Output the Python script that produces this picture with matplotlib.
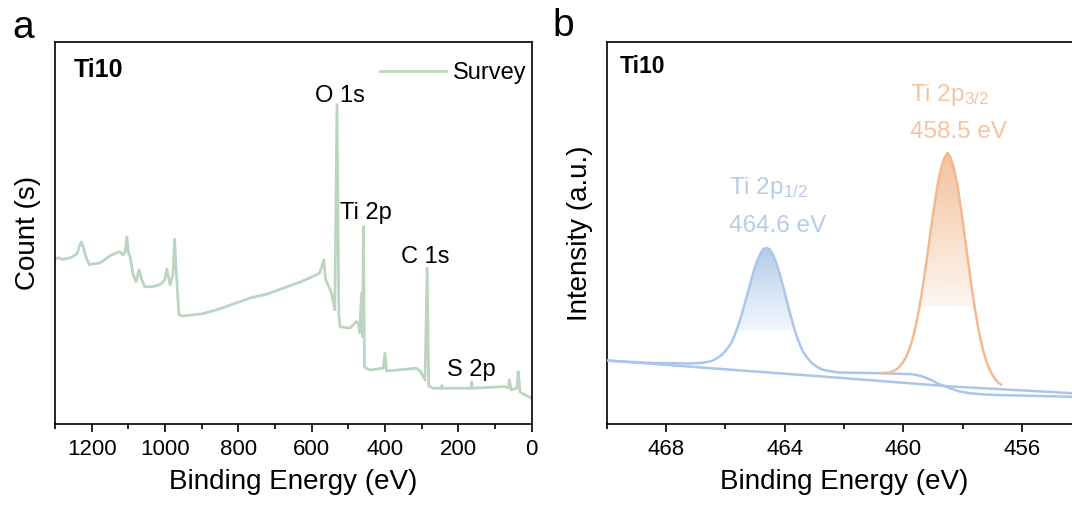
import numpy as np
import matplotlib
matplotlib.use("Agg")
import matplotlib.pyplot as plt

plt.rcParams['font.family'] = ['Liberation Sans', 'DejaVu Sans']
plt.rcParams['mathtext.default'] = 'regular'

# ---- panel a: survey spectrum (binding energy in eV, counts in a.u.)
survey_e = [1300, 1290, 1280, 1270, 1260, 1252, 1240, 1233, 1228, 1222, 1215, 1206,
            1195, 1179, 1165, 1151, 1138, 1124, 1115, 1108, 1104, 1099, 1095, 1088,
            1079, 1071, 1065, 1056, 1040, 1024, 1010, 1001, 995, 990, 986, 978, 974,
            969, 962, 951, 900, 860, 820, 769, 720, 678, 630, 587, 578, 567, 562,
            554, 546, 537, 531, 526, 523, 496, 478, 473, 469, 464, 461, 459, 456,
            453, 441, 405, 400, 396, 314, 303, 296, 291, 285, 281, 269, 246, 245,
            244, 166, 164, 162, 78, 64, 61, 56, 40, 37, 32, 23, 0]
survey_y = [165, 166, 164.5, 165, 166, 167.3, 170, 178, 182, 176, 166, 159,
            160, 160.7, 164, 168, 170, 172.3, 169, 172, 186.7, 170, 167.3, 150.7,
            142.3, 154, 145.7, 137.3, 137, 138, 140, 144, 154.7, 146, 139, 150, 184.7,
            150.7, 109, 108, 110, 114, 119, 125.7, 130, 135.7, 142, 149, 151, 164, 144,
            138, 131, 114, 319, 110.7, 97.3, 95.7, 102.3, 101, 91, 130.7, 87.3, 197.3,
            57.3, 56, 54, 55.7, 70.7, 53, 55.7, 52.3, 47.3, 44, 155.7, 38, 35.7, 35.7,
            38.5, 35.7, 35.7, 42, 35.7, 37.3, 36.5, 44, 34, 36, 52.3, 32.3, 30, 25.7]

survey_peaks = ['O 1s', 'Ti 2p', 'C 1s', 'S 2p']
survey_peak_e = [522, 452, 290, 165]
survey_peak_y = [328, 211, 167, 54]

# ---- panel b: Ti 2p high resolution
bg_e = [470.0, 462.3, 458.4, 454.0]
bg_y = [63.5, 46.5, 37.5, 30.3]

p12_e = [470.0, 468.5, 467.2, 466.8, 466.6, 466.5, 466.4, 466.3, 466.2, 466.1,
         466.0, 465.9, 465.8, 465.7, 465.6, 465.5, 465.4, 465.3, 465.2, 465.1,
         465.0, 464.9, 464.8, 464.7, 464.6, 464.5, 464.4, 464.3, 464.2, 464.1,
         464.0, 463.9, 463.8, 463.7, 463.6, 463.5, 463.4, 463.3, 463.2, 463.1,
         463.0, 462.9, 462.8, 462.7, 462.6, 462.4, 462.2, 460.5, 459.67, 459.4,
         459.1, 458.8, 458.43, 458.1, 457.75, 457.3, 456.85, 454.0]
p12_y = [63.3, 61, 60.5, 61, 62, 62.7, 63.8, 65.3, 67.3, 69.7,
         72.9, 76.7, 80.9, 87.5, 95.3, 104.2, 114.3, 125, 136, 146.7,
         156.8, 165, 171.2, 175.1, 176, 174.2, 169.4, 162.4, 153.4, 142.7,
         131.3, 119.8, 108.5, 97.9, 88.5, 80.3, 73.3, 68.7, 64.8, 61.5,
         59, 56.9, 55.3, 54.2, 53.5, 52.5, 51.5, 50.5, 49.7, 48,
         44.5, 40, 35.7, 32.5, 30.7, 29.6, 29, 27]

p32_e = [460.7, 460.5, 460.4, 460.3, 460.2, 460.1, 460.0, 459.9, 459.8, 459.7,
         459.6, 459.5, 459.4, 459.3, 459.2, 459.1, 459.0, 458.9, 458.8, 458.7,
         458.6, 458.5, 458.4, 458.3, 458.2, 458.1, 458.0, 457.9, 457.8, 457.7,
         457.6, 457.5, 457.4, 457.3, 457.2, 457.1, 457.0, 456.9, 456.8, 456.7]
p32_y = [50.8, 51.2, 52, 53.4, 55.2, 58.1, 62.2, 67.1, 74.2, 83.4,
         95, 109.2, 126.1, 145, 165.9, 187.3, 208.5, 228.4, 245.5, 258.4,
         266.6, 271, 265.7, 256.7, 242.9, 224.9, 204.3, 182.2, 159.9, 138.2,
         118.4, 100.6, 85.5, 73.1, 63, 55.2, 49.4, 44.9, 41.6, 39.4]

blue = '#AAC6EA'
orange = '#F3BA91'
green = '#BCD5C0'


def grad_fill(ax, x, y, ycut, color, a_top=0.9, a_bot=0.12):
    x = np.asarray(x)
    y = np.asarray(y)
    poly = ax.fill_between(x, y, ycut, where=y >= ycut, interpolate=True,
                           facecolor='none', edgecolor='none')
    rgba = np.array(matplotlib.colors.to_rgba(color))
    n = 256
    img = np.tile(rgba, (n, 1)).reshape(n, 1, 4)
    img[:, 0, 3] = np.linspace(a_bot, a_top, n)
    im = ax.imshow(img, origin='lower', aspect='auto', interpolation='bilinear',
                   extent=[x.max(), x.min(), ycut, y.max()], zorder=1)
    im.set_clip_path(poly.get_paths()[0], transform=ax.transData)


fig = plt.figure(figsize=(10.72, 5.16), dpi=100)
ax1 = fig.add_axes([0.0513, 0.1783, 0.4447, 0.741])
ax2 = fig.add_axes([0.566, 0.1783, 0.4425, 0.741])

# panel a
ax1.plot(survey_e, survey_y, color=green, lw=2, label='Survey')
for name, xe, ye in zip(survey_peaks, survey_peak_e, survey_peak_y):
    ax1.text(xe, ye, name, fontsize=17, ha='center', va='center')
ax1.set_xlim(1300, 0)
ax1.set_ylim(0, 382)
ax1.set_xticks([1200, 1000, 800, 600, 400, 200, 0])
ax1.set_xticks(np.arange(1300, -1, -100), minor=True)
ax1.set_yticks([])
ax1.set_xlabel('Binding Energy (eV)', fontsize=20, labelpad=6)
ax1.set_ylabel('Count (s)', fontsize=20, labelpad=10)
ax1.legend(loc='center right', bbox_to_anchor=(1.0, 0.918), frameon=False,
           fontsize=17, handlelength=2.8, handletextpad=0.3,
           borderaxespad=0, borderpad=0.2)
ax1.text(0.04, 0.925, 'Ti10', transform=ax1.transAxes, fontsize=18,
         fontweight='bold', va='center', ha='left')
fig.text(0.012, 0.945, 'a', fontsize=28, va='center')

# panel b
ax2.plot(bg_e, bg_y, color=blue, lw=1.8, zorder=3)
ax2.plot(p12_e, p12_y, color=blue, lw=1.8, zorder=3)
ax2.plot(p32_e, p32_y, color=orange, lw=1.8, zorder=3)
grad_fill(ax2, p12_e, p12_y, 93, blue)
grad_fill(ax2, p32_e, p32_y, 117, orange)

ax2.text(465.86, 236, 'Ti 2p$_{1/2}$', color='#B6CCEA', fontsize=17.5,
         ha='left', va='center')
ax2.text(465.86, 198, '464.6 eV', color='#B6CCEA', fontsize=17.5,
         ha='left', va='center')
ax2.text(459.78, 329, 'Ti 2p$_{3/2}$', color='#F6C3A0', fontsize=17.5,
         ha='left', va='center')
ax2.text(459.78, 292, '458.5 eV', color='#F6C3A0', fontsize=17.5,
         ha='left', va='center')

ax2.set_xlim(470, 454)
ax2.set_ylim(0, 382)
ax2.set_xticks([468, 464, 460, 456])
ax2.set_xticks([470, 466, 462, 458, 454], minor=True)
ax2.set_yticks([])
ax2.set_xlabel('Binding Energy (eV)', fontsize=20, labelpad=6)
ax2.set_ylabel('Intensity (a.u.)', fontsize=20, labelpad=10)
ax2.text(0.028, 0.935, 'Ti10', transform=ax2.transAxes, fontsize=16.5,
         fontweight='bold', va='center', ha='left')
fig.text(0.515, 0.95, 'b', fontsize=28, va='center')

for ax in (ax1, ax2):
    for s in ax.spines.values():
        s.set_linewidth(1.2)
    ax.tick_params(axis='x', which='major', direction='out', length=6, width=1.2,
                   labelsize=16, pad=5)
    ax.tick_params(axis='x', which='minor', direction='out', length=3.5, width=1.2)

fig.savefig('out.png', dpi=100)
